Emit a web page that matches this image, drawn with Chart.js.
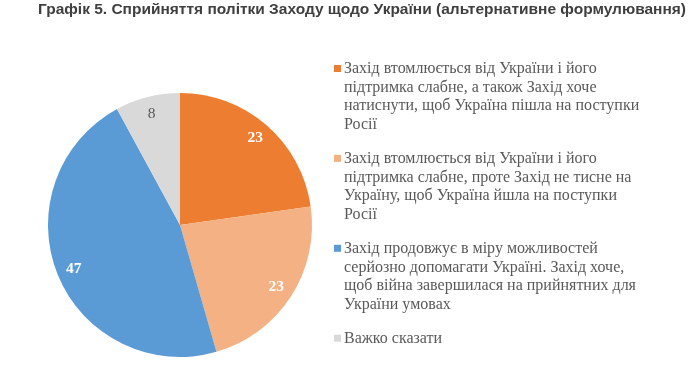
<!DOCTYPE html>
<html>
<head>
<meta charset="utf-8">
<script src="https://cdn.jsdelivr.net/npm/chart.js@4/dist/chart.umd.min.js"></script>
<style>
  html, body { margin: 0; padding: 0; background: #ffffff; }
  #wrap { position: relative; width: 690px; height: 377px; }
</style>
</head>
<body>
<div id="wrap"><canvas id="c" width="690" height="377"></canvas></div>
<script>
const titleText = 'Графік 5. Сприйняття політки Заходу щодо України (альтернативне формулювання)';
const categories = [
  ['Захід втомлюється від України і його', 'підтримка слабне, а також Захід хоче', 'натиснути, щоб Україна пішла на поступки', 'Росії'],
  ['Захід втомлюється від України і його', 'підтримка слабне, проте Захід не тисне на', 'Україну, щоб Україна йшла на поступки', 'Росії'],
  ['Захід продовжує в міру можливостей', 'серйозно допомагати Україні. Захід хоче,', 'щоб війна завершилася на прийнятних для', 'України умовах'],
  ['Важко сказати']
];
const values = [23, 23, 47, 8];
const colors = ['#ED7D31', '#F4B183', '#5B9BD5', '#D9D9D9'];
const labelColors = ['#ffffff', '#ffffff', '#ffffff', '#595959'];
const labelBold = [true, true, true, false];

const titlePlugin = {
  id: 'titleDraw',
  afterDraw(chart) {
    const ctx = chart.ctx;
    ctx.save();
    ctx.font = 'bold 15px "Liberation Sans", Arial, sans-serif';
    ctx.fillStyle = '#3f3f3f';
    ctx.textBaseline = 'alphabetic';
    ctx.textAlign = 'left';
    const left = 38, right = 686;
    const w = ctx.measureText(titleText).width;
    const sx = (right - left) / w;
    ctx.translate(left, 13.5);
    ctx.scale(sx, 1);
    ctx.fillText(titleText, 0, 0);
    ctx.restore();
  }
};

const legendPlugin = {
  id: 'legendDraw',
  afterDraw(chart) {
    const ctx = chart.ctx;
    ctx.save();
    ctx.font = '16px "Liberation Serif", "Times New Roman", serif';
    ctx.textBaseline = 'middle';
    ctx.textAlign = 'left';
    const lineH = 18.6;
    const gap = 15.5;
    let y = 69;
    chart.data.labels.forEach((lines, i) => {
      ctx.fillStyle = chart.data.datasets[0].backgroundColor[i];
      ctx.fillRect(334, y - 4, 7, 7);
      ctx.fillStyle = '#595959';
      lines.forEach((ln, k) => ctx.fillText(ln, 344, y + k * lineH));
      y += lines.length * lineH + gap;
    });
    ctx.restore();
  }
};

const valueLabels = {
  id: 'valueLabels',
  afterDatasetsDraw(chart) {
    const ctx = chart.ctx;
    const meta = chart.getDatasetMeta(0);
    ctx.save();
    ctx.textAlign = 'center';
    ctx.textBaseline = 'middle';
    meta.data.forEach((arc, i) => {
      const p = arc.getProps(['x', 'y', 'startAngle', 'endAngle', 'outerRadius'], true);
      const mid = (p.startAngle + p.endAngle) / 2;
      const r = p.outerRadius * 0.87;
      ctx.font = (labelBold[i] ? 'bold ' : '') + '15.5px "Liberation Serif", "Times New Roman", serif';
      ctx.fillStyle = labelColors[i];
      ctx.fillText(String(chart.data.datasets[0].data[i]), p.x + Math.cos(mid) * r, p.y + Math.sin(mid) * r);
    });
    ctx.restore();
  }
};

new Chart(document.getElementById('c'), {
  type: 'pie',
  data: {
    labels: categories,
    datasets: [{
      data: values,
      backgroundColor: colors,
      borderWidth: 0
    }]
  },
  options: {
    responsive: false,
    animation: false,
    devicePixelRatio: 1,
    layout: { padding: { top: 93, bottom: 20, left: 48, right: 378 } },
    plugins: {
      legend: { display: false },
      title: { display: false },
      tooltip: { enabled: false }
    }
  },
  plugins: [titlePlugin, legendPlugin, valueLabels]
});
</script>
</body>
</html>
